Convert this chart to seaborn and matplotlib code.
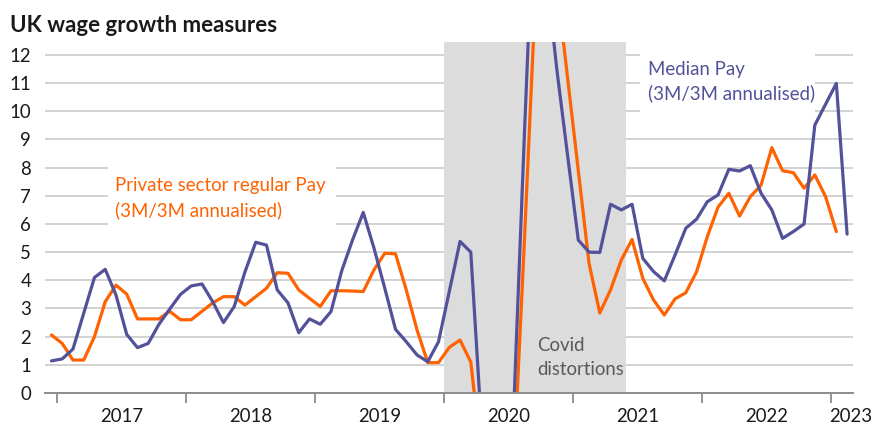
import numpy as np
import pandas as pd
import matplotlib
matplotlib.use("Agg")
import matplotlib.pyplot as plt
from matplotlib.patches import Rectangle
import seaborn as sns

# ---------------- data (monthly, Dec 2016 .. Feb 2023) ----------------
years = ["2017", "2018", "2019", "2020", "2021", "2022", "2023"]

median_pay = [1.14, 1.21, 1.56, 2.83, 4.10, 4.39, 3.48, 2.08, 1.61, 1.76, 2.44, 2.98,
              3.50, 3.80, 3.87, 3.24, 2.50, 3.07, 4.30, 5.35, 5.25, 3.66, 3.20, 2.14,
              2.63, 2.44, 2.89, 4.34, 5.43, 6.41, 5.14, 3.72, 2.26, 1.82, 1.35, 1.11,
              1.82, 3.60, 5.38, 5.00, -1.2, -6.0, -3.0, -0.5, 9.3, 18.6, 15.0, 11.5,
              8.45, 5.43, 5.00, 4.99, 6.70, 6.50, 6.70, 4.78, 4.31, 3.98, 4.90, 5.85,
              6.17, 6.79, 7.03, 7.94, 7.88, 8.07, 7.09, 6.50, 5.49, 5.73, 6.00, 9.51,
              10.25, 10.99, 5.64]

private_pay = [2.06, 1.76, 1.17, 1.17, 2.00, 3.24, 3.83, 3.51, 2.63, 2.63, 2.63, 2.90,
               2.60, 2.60, 2.90, 3.20, 3.42, 3.42, 3.12, 3.42, 3.72, 4.27, 4.25, 3.66,
               3.36, 3.07, 3.63, 3.63, 3.62, 3.60, 4.37, 4.96, 4.94, 3.66, 2.24, 1.08,
               1.08, 1.62, 1.88, 1.10, -2.3, -8.0, -6.0, -2.6, 5.5, 14.0, 20.0, 14.5,
               11.2, 7.9, 4.6, 2.84, 3.66, 4.72, 5.45, 4.07, 3.30, 2.77, 3.34, 3.56,
               4.30, 5.55, 6.60, 7.09, 6.28, 6.97, 7.38, 8.71, 7.89, 7.82, 7.27, 7.74,
               6.97, 5.73]

months = pd.date_range("2016-12-01", periods=len(median_pay), freq="MS")

ORANGE = "#FF6200"
INDIGO = "#525199"

df = pd.concat([
    pd.DataFrame({"month": np.arange(len(median_pay)), "value": median_pay,
                  "series": "Median Pay"}),
    pd.DataFrame({"month": np.arange(len(private_pay)), "value": private_pay,
                  "series": "Private sector regular Pay"}),
])

# ---------------- figure ----------------
sns.set_style("white")
plt.rcParams['font.family'] = ['Lato', 'DejaVu Sans']
FS = 13.4

W, H = 873, 426
fig = plt.figure(figsize=(W / 100, H / 100), dpi=100)
ax = fig.add_axes([45 / W, 1 - 393 / H, (853 - 45) / W, (393 - 41.7) / H])

ax.set_xlim(-0.6, 74.55)
ax.set_ylim(0, 12.47)

# grid
ax.set_axisbelow(True)
ax.set_yticks(range(0, 13))
ax.yaxis.grid(True, color="#cfcfcf", linewidth=1.3)
ax.xaxis.grid(False)

# covid shading
ax.axvspan(36.5, 53.45, color="#dcdcdc", zorder=1, linewidth=0)

# white label boxes
ax.add_patch(Rectangle((5.25, 5.93), 26.5 - 5.25, 8.27 - 5.93, facecolor="white",
                       edgecolor="none", zorder=1.2))
ax.add_patch(Rectangle((54.7, 9.83), 71.0 - 54.7, 12.47 - 9.83, facecolor="white",
                       edgecolor="none", zorder=1.2))

sns.lineplot(data=df, x="month", y="value", hue="series",
             palette={"Median Pay": INDIGO, "Private sector regular Pay": ORANGE},
             hue_order=["Private sector regular Pay", "Median Pay"],
             linewidth=2.3, legend=False, ax=ax, zorder=3, estimator=None)

# spines
for s in ["top", "right", "left"]:
    ax.spines[s].set_visible(False)
ax.spines["bottom"].set_color("#8c8c8c")
ax.spines["bottom"].set_linewidth(1.4)
ax.spines["bottom"].set_zorder(4)

# y ticks
ax.tick_params(axis="y", left=False, length=0, pad=10, labelsize=FS, labelcolor="#1a1a1a")

# x ticks: marks at year boundaries, labels at mid-year
boundaries = [0.5 + 12 * k for k in range(7)]
ax.set_xticks(boundaries)
ax.set_xticklabels([])
ax.tick_params(axis="x", which="major", bottom=True, length=7, width=1.3,
               color="#8c8c8c", direction="out")
centers = [6.5 + 12 * k for k in range(6)] + [74.35]
ax.set_xticks(centers, minor=True)
ax.set_xticklabels(years, minor=True)
ax.tick_params(axis="x", which="minor", bottom=True, length=0, pad=11, labelsize=FS,
               labelcolor="#1a1a1a")
ax.set_xlabel("")
ax.set_ylabel("")

# annotations
ax.text(5.9, 7.35, "Private sector regular Pay", color=ORANGE, fontsize=FS,
        va="center", ha="left", zorder=5)
ax.text(5.9, 6.50, "(3M/3M annualised)", color=ORANGE, fontsize=FS,
        va="center", ha="left", zorder=5)
ax.text(55.5, 11.47, "Median Pay", color=INDIGO, fontsize=FS,
        va="center", ha="left", zorder=5)
ax.text(55.5, 10.65, "(3M/3M annualised)", color=INDIGO, fontsize=FS,
        va="center", ha="left", zorder=5)
ax.text(45.15, 1.70, "Covid", color="#595959", fontsize=FS,
        va="center", ha="left", zorder=5)
ax.text(45.15, 0.82, "distortions", color="#595959", fontsize=FS,
        va="center", ha="left", zorder=5)

fig.text(10 / W, 1 - 25 / H, "UK wage growth measures", fontsize=16,
         fontweight="bold", color="#1a1a1a", va="center", ha="left")

fig.savefig("out.png", dpi=100, facecolor="white")
